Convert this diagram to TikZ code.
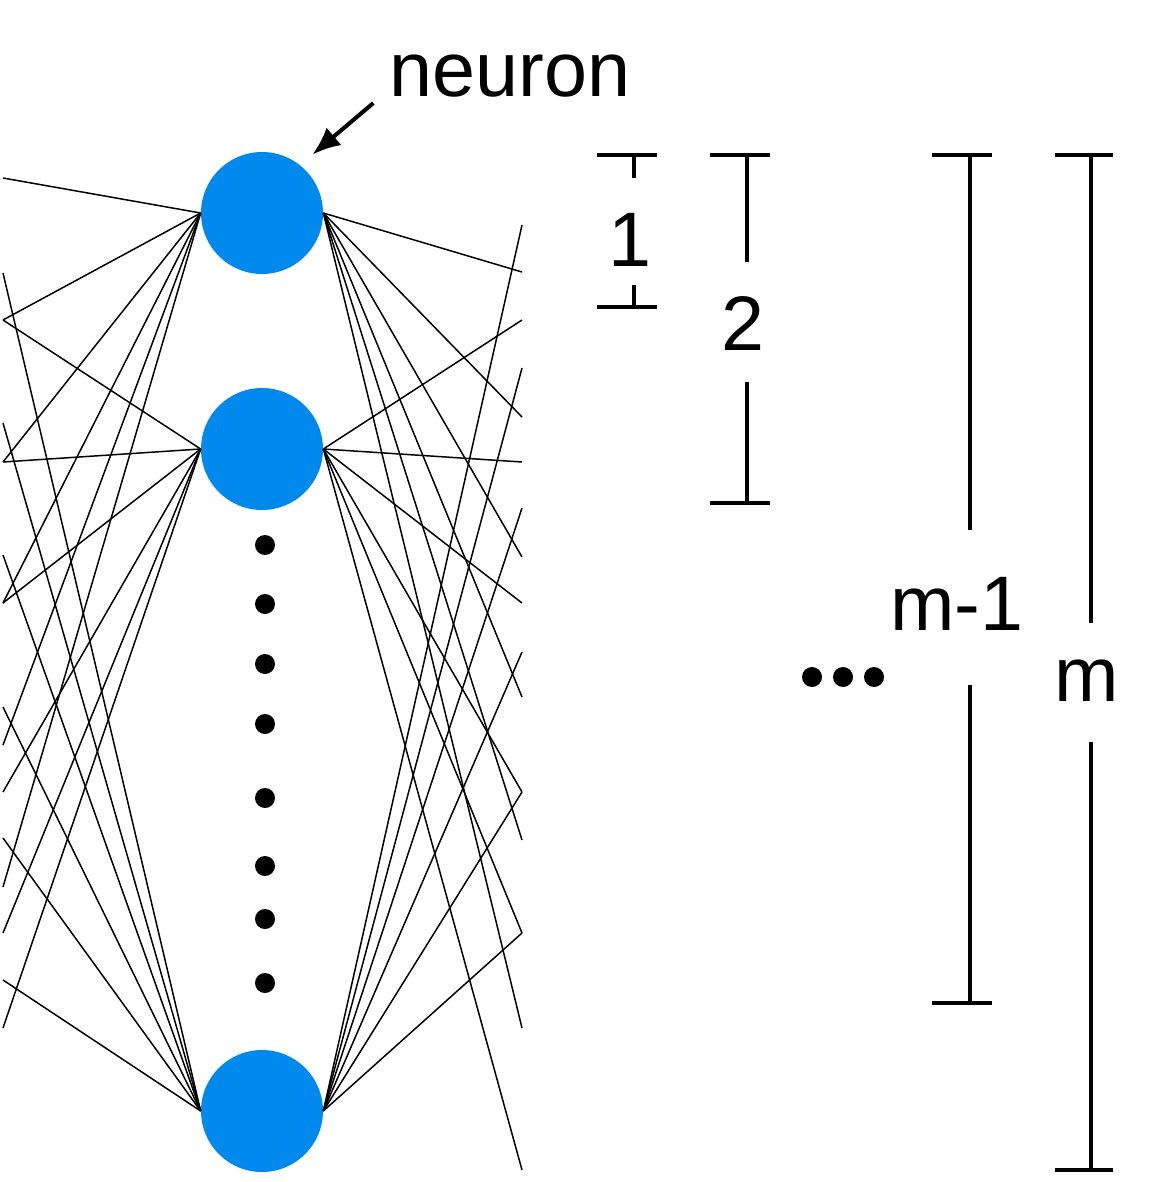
\documentclass[tikz,border=0pt]{standalone}
\usepackage{fontspec}
\setmainfont{Liberation Sans}
\usepackage{xcolor}
\usepackage{tikz}
\usetikzlibrary{arrows.meta}

\definecolor{neuronblue}{RGB}{0,137,236}

\begin{document}
\begin{tikzpicture}[x=0.02cm,y=-0.02cm,
  neuron/.style={circle,fill=neuronblue,minimum size=2.44cm,inner sep=0pt},
  wire/.style={line width=0.85pt},
  bar/.style={line width=2.3pt},
  lbl/.style={font=\fontsize{44}{50}\selectfont,inner sep=0pt,anchor=base}]

\useasboundingbox (0,0) rectangle (1168,1182);

% Neurons
\node[neuron] (top) at (262,213) {};
\node[neuron] (mid) at (262,449) {};
\node[neuron] (bot) at (262,1111) {};

% Loose ends of the connections
\foreach \y in {178,273,320,423,462,555,603,707,745,792,838,887,933,980,1028}
  \coordinate (in\y) at (3,\y);
\foreach \y in {225,272,320,368,417,462,508,557,603,652,697,792,840,933,1028,1170}
  \coordinate (out\y) at (522,\y);

% Incoming connections
\foreach \y in {178,320,462,603,745,887}
  \draw[wire] (top.west) -- (in\y);
\foreach \y in {320,462,603,792,933,1028}
  \draw[wire] (mid.west) -- (in\y);
\foreach \y in {273,423,555,707,838,980}
  \draw[wire] (bot.west) -- (in\y);

% Outgoing connections
\foreach \y in {272,417,557,697,840,1028}
  \draw[wire] (top.east) -- (out\y);
\foreach \y in {320,462,603,792,933,1170}
  \draw[wire] (mid.east) -- (out\y);
\foreach \y in {225,368,508,652,792,933}
  \draw[wire] (bot.east) -- (out\y);

% Dots between the neurons
\foreach \y in {545,604,664,724,798,866,919,983}
  \fill (265,\y) circle (0.2cm);
\foreach \x in {812,843,874}
  \fill (\x,677) circle (0.2cm);

% Label with arrow
\node[lbl] (neuronlbl) at (510,97) {neuron};
\draw[bar,-{Latex[length=16pt,width=13pt]}] ([shift={(-16,5)}]neuronlbl.south west) -- ([shift={(7,-15)}]top.north east);

% Span 1
\node[lbl] (one) at (630,267) {1};
\draw[bar] (597,155) -- (657,155) (634,155) -- (634,178);
\draw[bar] (634,285) -- (634,307) (597,307) -- (657,307);

% Span 2
\node[lbl] (two) at (743,350) {2};
\draw[bar] (710,155) -- (770,155) (747,155) -- (747,262);
\draw[bar] (747,382) -- (747,503) (710,503) -- (770,503);

% Span m-1
\node[lbl] (mminus) at (957,630) {m-1};
\draw[bar] (932,155) -- (992,155) (970,155) -- (970,530);
\draw[bar] (970,685) -- (970,1003) (932,1003) -- (992,1003);

% Span m
\node[lbl] (mall) at (1087,701) {m};
\draw[bar] (1055,155) -- (1113,155) (1091,155) -- (1091,623);
\draw[bar] (1091,742) -- (1091,1170) (1055,1170) -- (1113,1170);

\end{tikzpicture}
\end{document}
